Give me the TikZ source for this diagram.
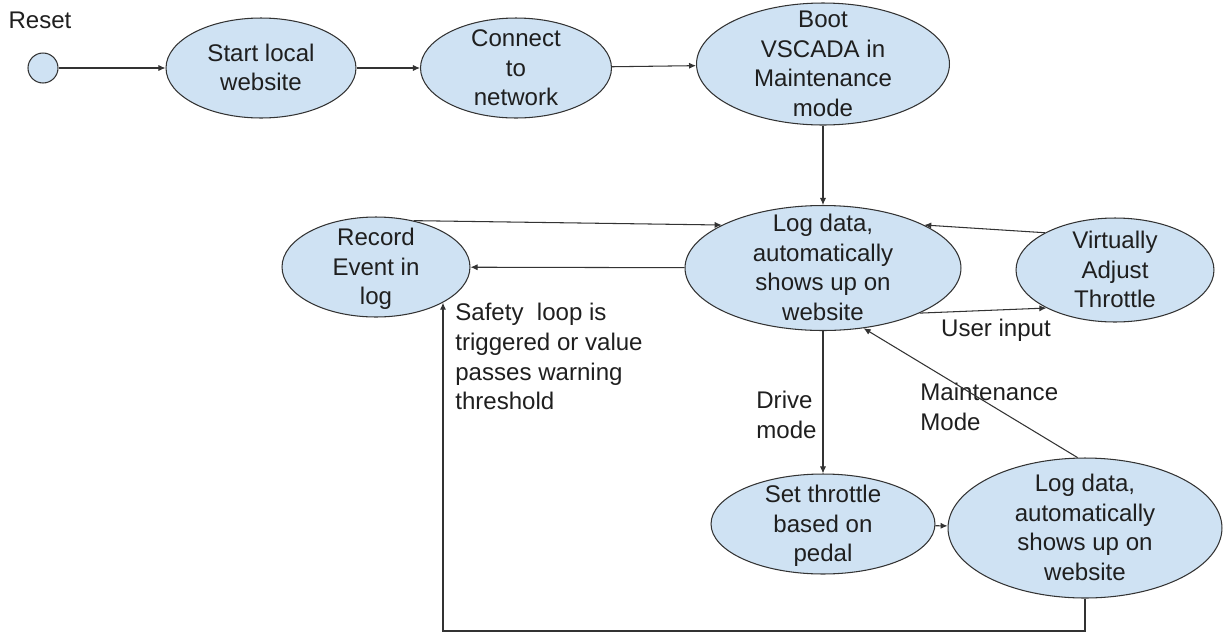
\documentclass[tikz,border=0pt]{standalone}
\usepackage{fontspec}
\setmainfont{Liberation Sans}
\usepackage{xcolor}
\usetikzlibrary{arrows.meta,shapes.geometric,positioning,calc}

\definecolor{statefill}{HTML}{CFE2F3}
\definecolor{lineclr}{HTML}{333333}

% centred lines that do not change the size of the ellipse
\newcommand{\mlines}[1]{\smash{\raisebox{-0.35em}{\begin{tabular}{@{}c@{}}#1\end{tabular}}}}

\tikzset{
  state/.style={ellipse,draw=lineclr,fill=statefill,line width=0.6pt,inner sep=0pt},
  flow/.style={-{Latex[length=4pt,width=3.5pt]},draw=lineclr,line width=0.6pt},
  note/.style={align=left,inner sep=0pt}
}

\begin{document}
\begin{tikzpicture}[x=0.02cm,y=-0.02cm,font=\fontsize{13.7}{16.9}\selectfont,text=black!88]
\useasboundingbox (0,0) rectangle (1225,633);

\node[circle,draw=lineclr,fill=statefill,line width=0.6pt,minimum size=0.6cm,inner sep=0pt] (reset) at (43,68) {};
\node (resetlbl) at (40,20) {Reset};
\node[state,minimum width=3.8cm,minimum height=2cm] (start) at (261,68) {\mlines{Start local\\website}};
\node[state,minimum width=3.82cm,minimum height=2cm] (connect) at (516,68) {\mlines{Connect\\to\\network}};
\node[state,minimum width=5.06cm,minimum height=2.44cm] (boot) at (823,64) {\mlines{Boot\\VSCADA in\\Maintenance\\mode}};
\node[state,minimum width=5.52cm,minimum height=2.5cm] (logmain) at (823,268) {\mlines{Log data,\\automatically\\shows up on\\website}};
\node[state,minimum width=3.76cm,minimum height=2cm] (record) at (376,267) {\mlines{Record\\Event in\\log}};
\node[state,minimum width=3.96cm,minimum height=2.08cm] (adjust) at (1115,270) {\mlines{Virtually\\Adjust\\Throttle}};
\node[state,minimum width=4.48cm,minimum height=2cm] (pedal) at (823,524) {\mlines{Set throttle\\based on\\pedal}};
\node[state,minimum width=5.48cm,minimum height=2.8cm] (logdrive) at (1085,528) {\mlines{Log data,\\automatically\\shows up on\\website}};

\node[note,anchor=west] (drivelbl) at (756,415) {Drive\\mode};
\node[note] (userlbl) at (996,330) {User input};
\node[note,anchor=west] (maintlbl) at (920,407) {Maintenance\\Mode};
\node[note,anchor=north west] (safetylbl) at (455,303) {Safety\ \ loop is\\triggered or value\\passes warning\\threshold};

\coordinate (loopturn) at (443,631);

\draw[flow] (reset) -- (start);
\draw[flow] (start) -- (connect);
\draw[flow] (connect) -- (boot);
\draw[flow] (boot) -- (logmain);
\draw[flow] (record.51) -- (logmain.157);
\draw[flow] (logmain) -- (record);
\draw[flow] (adjust.152) -- (logmain.23);
\draw[flow] (logmain.-25) -- (adjust.209);
\draw[flow] (logmain) -- (pedal);
\draw[flow] (pedal) -- (logdrive);
\draw[flow] (logdrive.96) -- (logmain.-56);
\draw[flow] (logdrive.south) -- (logdrive.south |- loopturn) -- (loopturn) -- (loopturn |- record.-28);
\end{tikzpicture}
\end{document}
